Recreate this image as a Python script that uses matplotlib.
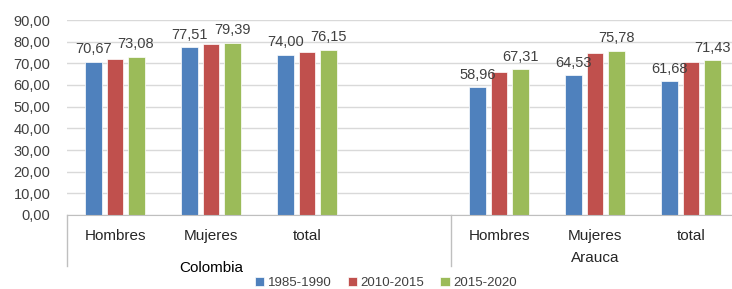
import numpy as np
import matplotlib.pyplot as plt

plt.rcParams['font.family'] = ['Liberation Sans', 'DejaVu Sans']

sexes = ['Hombres', 'Mujeres', 'total']
regions = ['Colombia', 'Arauca']
periods = ['1985-1990', '2010-2015', '2015-2020']
colors = ['#4f81bd', '#c0504d', '#9bbb59']

colombia = [
    [70.67, 77.51, 74.00],   # 1985-1990
    [71.90, 78.80, 75.10],   # 2010-2015
    [73.08, 79.39, 76.15],   # 2015-2020
]
arauca = [
    [58.96, 64.53, 61.68],
    [66.20, 74.90, 70.40],
    [67.31, 75.78, 71.43],
]
# only these series got data labels in the original
labelled = [True, False, True]

fig = plt.figure(figsize=(7.32, 2.89), dpi=100)
W, H = 732, 289
ax = fig.add_axes([67 / W, (H - 215) / H, 768 / W, 195 / H])

# Colombia at 0..2, blank slot at 3, Arauca at 4..6
xpos = [np.arange(3), np.arange(3) + 4]
width = 0.177
step = 0.219
for r, data in enumerate([colombia, arauca]):
    for i, vals in enumerate(data):
        x = xpos[r] + (i - 1) * step
        bars = ax.bar(x, vals, width, color=colors[i], edgecolor='white',
                      linewidth=0.5, label=periods[i] if r == 0 else None)
        if labelled[i]:
            for xb, v in zip(x, vals):
                ax.annotate(f'{v:.2f}'.replace('.', ','), (xb, v),
                            xytext=(0, 4), textcoords='offset points',
                            ha='center', va='bottom', fontsize=10.5,
                            color='#404040', annotation_clip=False)

ax.set_ylim(0, 90)
ax.set_xlim(-0.5, 7.5)
yt = np.arange(0, 91, 10)
ax.set_yticks(yt)
ax.set_yticklabels([f'{v:.2f}'.replace('.', ',') for v in yt],
                   fontsize=10.5, color='#404040')
ax.yaxis.grid(True, color='#d9d9d9', linewidth=1)
ax.set_axisbelow(True)
ax.tick_params(axis='y', length=0, pad=12)
for s in ['top', 'right', 'left']:
    ax.spines[s].set_visible(False)
ax.spines['bottom'].set_color('#bfbfbf')

ax.set_xticks(list(xpos[0]) + list(xpos[1]))
ax.set_xticklabels(sexes + sexes, fontsize=11, color='#262626')
ax.tick_params(axis='x', length=0, pad=10)

# group separators and labels
tr = ax.get_xaxis_transform()
for xs in [-0.5, 3.5]:
    ax.plot([xs, xs], [0, -0.26], transform=tr, color='#bfbfbf',
            linewidth=1, clip_on=False)
ax.text(1.0, -0.27, regions[0], transform=tr, ha='center', va='center',
        fontsize=11, color='black')
ax.text(5.0, -0.22, regions[1], transform=tr, ha='center', va='center',
        fontsize=11, color='#262626')

fig.legend(loc='center', bbox_to_anchor=(386 / W, 1 - 283 / H), ncol=3,
           frameon=False, fontsize=9.5, handlelength=0.7, handleheight=0.7,
           handletextpad=0.3, columnspacing=1.2, labelcolor='#404040')

plt.savefig('out.png', dpi=100)
